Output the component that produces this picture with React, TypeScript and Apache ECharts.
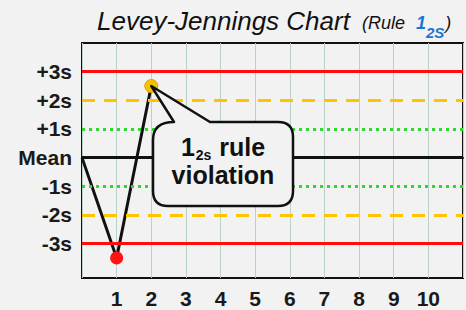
import React, { useEffect, useRef } from "react";
import * as echarts from "echarts";

// ---- data ----
const xTickValues = [1, 2, 3, 4, 5, 6, 7, 8, 9, 10];
const runX = [0, 1, 2];
const runY = [0, -3.5, 2.5];
const limitValues = [3, 2, 1, 0, -1, -2, -3];
const limitLabels = ["+3s", "+2s", "+1s", "Mean", "-1s", "-2s", "-3s"];
const violationIndex = 2;

const FONT = "Liberation Sans, Arial, sans-serif";
const BG = "#f2f2f2";
const BLUE = "#1b76d0";

function limitStyle(v: number) {
  const a = Math.abs(v);
  if (a === 3) return { color: "#ff0d0d", width: 3, type: "solid" as any };
  if (a === 2) return { color: "#ffc400", width: 3, type: [13, 9] as any };
  if (a === 1) return { color: "#2fd82f", width: 3, type: [3, 4] as any };
  return { color: "#111111", width: 3, type: "solid" as any };
}

function pointStyle(i: number) {
  if (i === 1) return { symbol: "circle", symbolSize: 13, itemStyle: { color: "#ff1414" } };
  if (i === 2) return { symbol: "circle", symbolSize: 13, itemStyle: { color: "#f5c000", borderColor: "#d9a800", borderWidth: 1 } };
  return { symbol: "none" };
}

export default function App() {
  const ref = useRef<HTMLDivElement>(null);
  useEffect(() => {
    if (!ref.current) return;
    const chart = echarts.init(ref.current, undefined, { renderer: "svg" });
    const option: any = {
      animation: false,
      backgroundColor: BG,
      textStyle: { fontFamily: FONT },
      grid: {
        left: 82,
        top: 43,
        width: 383,
        height: 235,
        show: true,
        backgroundColor: BG,
        borderColor: "#111",
        borderWidth: 2,
      },
      xAxis: {
        type: "value",
        min: 0,
        max: 11,
        interval: 1,
        axisLine: { show: true, lineStyle: { color: "#111", width: 2 } },
        axisTick: { show: false },
        splitLine: { show: true, lineStyle: { color: "#b8d2c8", width: 1 } },
        axisLabel: {
          margin: 10,
          fontFamily: FONT,
          fontWeight: "bold",
          fontSize: 21,
          color: "#1a1a1a",
          formatter: (v: number) => (xTickValues.indexOf(v) >= 0 ? String(v) : ""),
        },
      },
      yAxis: {
        type: "value",
        min: -4.2,
        max: 4,
        axisLine: { show: false },
        axisTick: { show: false },
        splitLine: { show: false },
        axisLabel: {
          customValues: limitValues,
          margin: 10,
          fontFamily: FONT,
          fontWeight: "bold",
          fontSize: 21,
          color: "#1a1a1a",
          formatter: (v: number) => {
            const i = limitValues.findIndex((x) => Math.abs(x - v) < 1e-6);
            return i >= 0 ? limitLabels[i] : "";
          },
        },
      },
      series: [
        {
          type: "line",
          data: [],
          z: 1,
          silent: true,
          markLine: {
            silent: true,
            symbol: "none",
            label: { show: false },
            animation: false,
            data: limitValues.map((v) => ({ yAxis: v, lineStyle: limitStyle(v) })),
          },
        },
        {
          type: "line",
          z: 3,
          silent: true,
          showSymbol: true,
          lineStyle: { color: "#111", width: 3 },
          data: runX.map((x, i) => ({ value: [x, runY[i]], ...pointStyle(i) })),
        },
      ],
    };
    chart.setOption(option);

    const tip = chart.convertToPixel({ seriesIndex: 1 }, [runX[violationIndex], runY[violationIndex]]) as number[];
    const tx = tip[0];
    const ty = tip[1];
    const L = 153, R = 293, T = 122, B = 206, r = 15;
    const d =
      `M 174 ${T} L ${tx} ${ty} L 210 ${T} L ${R - r} ${T} Q ${R} ${T} ${R} ${T + r} ` +
      `L ${R} ${B - r} Q ${R} ${B} ${R - r} ${B} L ${L + r} ${B} Q ${L} ${B} ${L} ${B - r} ` +
      `L ${L} ${T + 18} Q ${L} ${T} 174 ${T} Z`;
    echarts.graphic.registerShape("bubble", echarts.graphic.extendPath(d, {}) as any);

    chart.setOption({
      graphic: [
        {
          type: "bubble",
          x: 0,
          y: 0,
          z: 10,
          silent: true,
          style: { fill: BG, stroke: "#111", lineWidth: 2.5, lineJoin: "round" },
        },
        {
          type: "text",
          x: 223,
          y: 134,
          z: 20,
          silent: true,
          style: {
            text: "{a|1}{b|2s}{a| rule}\n{v|violation}",
            align: "center",
            verticalAlign: "top",
            fill: "#111",
            fontFamily: FONT,
            rich: {
              a: { fontFamily: FONT, fontSize: 25, fontWeight: "bold", lineHeight: 28, verticalAlign: "top", fill: "#111" },
              b: { fontFamily: FONT, fontSize: 14, fontWeight: "bold", lineHeight: 12, padding: [14, 1, 0, 1], verticalAlign: "top", fill: "#111" },
              v: { fontFamily: FONT, fontSize: 25, fontWeight: "bold", lineHeight: 32, verticalAlign: "top", fill: "#111" },
            },
          },
        },
        {
          type: "text",
          x: 97,
          y: 21,
          z: 20,
          silent: true,
          style: {
            text: "Levey-Jennings Chart",
            fontFamily: FONT,
            fontSize: 26,
            fontStyle: "italic",
            fill: "#111",
            verticalAlign: "middle",
            align: "left",
          },
        },
        {
          type: "text",
          x: 362,
          y: 14,
          z: 20,
          silent: true,
          style: {
            text: "{t|(Rule}{c|1}{s|2S}{t|)}",
            align: "left",
            verticalAlign: "top",
            fontFamily: FONT,
            fill: "#111",
            rich: {
              t: { fontFamily: FONT, fontSize: 18, fontStyle: "italic", lineHeight: 22, verticalAlign: "top", fill: "#111" },
              c: { fontFamily: FONT, fontSize: 18, fontStyle: "italic", fontWeight: "bold", lineHeight: 22, verticalAlign: "top", fill: BLUE, padding: [0, 0, 0, 11] },
              s: { fontFamily: FONT, fontSize: 15, fontStyle: "italic", fontWeight: "bold", lineHeight: 11, padding: [11, 1, 0, 0], verticalAlign: "top", fill: BLUE },
            },
          },
        },
      ],
    });

    return () => chart.dispose();
  }, []);
  return (
    <div
      ref={ref}
      style={{ position: "fixed", left: 0, top: 0, width: 466, height: 310, background: BG }}
    />
  );
}
